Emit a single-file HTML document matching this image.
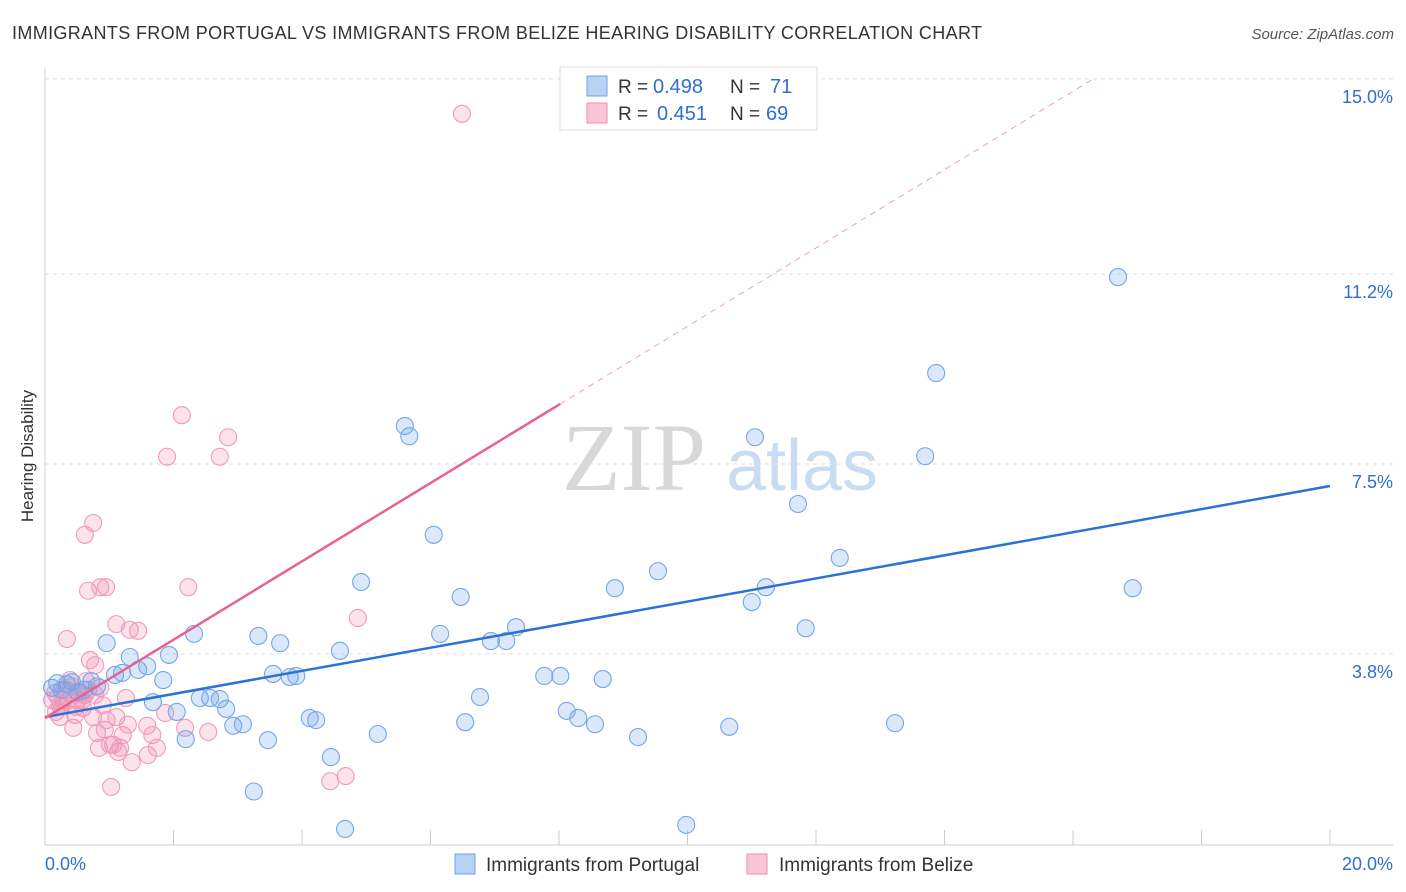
<!DOCTYPE html>
<html><head><meta charset="utf-8"><style>
body{margin:0;background:#fff;font-family:"Liberation Sans",sans-serif;}
svg{display:block}
</style></head><body>
<svg id="chart" width="1406" height="892" xmlns="http://www.w3.org/2000/svg">
<text x="12" y="39" font-size="18" fill="#333" textLength="970" lengthAdjust="spacing">IMMIGRANTS FROM PORTUGAL VS IMMIGRANTS FROM BELIZE HEARING DISABILITY CORRELATION CHART</text>
<text x="1394" y="39" font-size="15" fill="#555" text-anchor="end" font-style="italic">Source: ZipAtlas.com</text>
<text transform="translate(33,456) rotate(-90)" font-size="17" fill="#333" text-anchor="middle">Hearing Disability</text>
<g>
<text x="634" y="490" font-size="96" fill="#d8d8d8" text-anchor="middle" font-family="Liberation Serif,serif">ZIP</text>
<text x="802" y="490" font-size="72" fill="#c9dcf2" text-anchor="middle">atlas</text>
</g>
<g id="grid"></g><g id="axes"></g><g id="pts"></g><g id="trend"></g>
<g>
<rect x="560" y="67" width="257" height="63" fill="#fff" stroke="#ddd"/>
<rect x="587" y="76" width="20" height="20" fill="#b8d2f3" stroke="#6fa3e8"/>
<rect x="587" y="103" width="20" height="20" fill="#f9c6d7" stroke="#f08cb0"/>
<text x="618" y="93" font-size="19" fill="#333">R = <tspan fill="#2f6fd0" x="653" font-size="20">0.498</tspan><tspan x="730">N = </tspan><tspan fill="#2f6fd0" x="770" font-size="20">71</tspan></text>
<text x="618" y="120" font-size="19" fill="#333">R = <tspan fill="#2f6fd0" x="657" font-size="20">0.451</tspan><tspan x="730">N = </tspan><tspan fill="#2f6fd0" x="766" font-size="20">69</tspan></text>
</g>
<g>
<rect x="455" y="854" width="20" height="20" fill="#b8d2f3" stroke="#6fa3e8"/>
<text x="486" y="871" font-size="19" fill="#333">Immigrants from Portugal</text>
<rect x="747" y="854" width="20" height="20" fill="#f9c6d7" stroke="#f08cb0"/>
<text x="779" y="871" font-size="19" fill="#333">Immigrants from Belize</text>
</g>
</svg>
<script>
const yTicks=[15.0,11.2,7.5,3.8];
const yTickLabels=["15.0%","11.2%","7.5%","3.8%"];
const xTickCount=11;
const blueX=[0.11,0.19,0.26,0.34,0.42,0.51,0.61,0.72,0.81,0.96,1.09,1.20,1.32,1.45,1.59,1.68,1.84,1.93,2.05,2.19,2.32,2.41,2.57,2.72,2.82,2.93,3.08,3.25,3.32,3.47,3.55,3.66,3.81,3.91,4.12,4.22,4.45,4.59,4.67,4.92,5.18,5.60,5.67,6.05,6.15,6.47,6.54,6.77,6.94,7.18,7.33,7.77,8.02,8.12,8.30,8.56,8.68,8.87,9.23,9.54,9.98,10.65,11.00,11.05,11.22,11.72,11.84,12.37,13.23,13.70,13.87,16.70,16.93];
const blueY=[3.14,3.23,3.10,3.21,3.25,3.06,3.10,3.27,3.17,4.01,3.39,3.43,3.74,3.49,3.56,2.86,3.29,3.78,2.67,2.14,4.19,2.94,2.94,2.92,2.73,2.40,2.43,1.12,4.15,2.12,3.41,4.01,3.35,3.37,2.55,2.51,1.79,3.86,0.39,5.20,2.24,8.24,8.04,6.12,4.19,4.91,2.47,2.96,4.05,4.05,4.32,3.37,3.37,2.69,2.55,2.43,3.31,5.08,2.18,5.41,0.47,2.38,4.81,8.02,5.10,6.72,4.30,5.67,2.45,7.65,9.27,11.14,5.08];
const pinkX=[0.11,0.16,0.20,0.23,0.28,0.33,0.39,0.44,0.47,0.51,0.54,0.59,0.62,0.67,0.70,0.75,0.78,0.81,0.84,0.86,0.90,0.93,0.96,1.01,1.03,1.06,1.11,1.14,1.17,1.21,1.26,1.29,1.35,1.32,1.45,1.59,1.60,1.67,1.74,1.87,1.90,2.13,2.18,2.23,2.54,2.72,2.85,0.75,0.62,0.67,0.86,0.95,1.11,0.34,4.44,4.68,4.87,6.49,0.17,0.23,0.30,0.36,0.42,0.48,0.26,0.58,0.64,0.78];
const pinkY=[2.90,3.04,2.96,2.80,2.90,3.10,3.29,2.36,2.61,2.90,3.04,2.75,3.00,3.10,3.68,2.57,3.58,2.26,1.97,3.14,2.80,2.32,2.51,2.03,1.21,2.03,2.57,1.89,1.97,2.22,2.94,2.42,1.69,4.27,4.25,2.40,1.83,2.22,1.97,2.65,7.64,8.45,2.36,5.10,2.28,7.64,8.02,6.35,6.12,5.03,5.10,5.10,4.38,4.09,1.32,1.42,4.50,14.32,2.67,2.57,3.10,2.90,3.17,2.77,2.79,2.90,3.27,3.00];
const blueTrend=[2.57,7.07];
const pinkTrend=[2.55,8.67];
const pinkSolidEnd=8.02;

const NS="http://www.w3.org/2000/svg";
const X=v=>45+v*64.25, Y=v=>849-v*51.34;
function mk(tag,attrs,parent){const e=document.createElementNS(NS,tag);for(const k in attrs)e.setAttribute(k,attrs[k]);parent.appendChild(e);return e;}
const grid=document.getElementById('grid'),axes=document.getElementById('axes'),pts=document.getElementById('pts'),tr=document.getElementById('trend');
yTicks.forEach((t,i)=>{
 const l=mk('line',{x1:45,x2:1393,y1:Y(t),y2:Y(t),stroke:'#ddd','stroke-dasharray':'4,4'},grid);
 
 
 const tx=mk('text',{x:1393,y:Y(t)+24,'font-size':18,fill:'#2f6fd0','text-anchor':'end'},grid);
 tx.textContent=yTickLabels[i];
 
 
});
const ax=mk('line',{x1:45,x2:1393,y1:845,y2:845,stroke:'#ccc'},axes);


const ay=mk('line',{x1:45,x2:45,y1:68,y2:845,stroke:'#ccc'},axes);


for(let i=0;i<xTickCount;i++){const x=X(i*2);const t=mk('line',{x1:x,x2:x,y1:830,y2:845,stroke:'#ccc'},axes);
 
 }
const x0=mk('text',{x:45,y:870,'font-size':18,fill:'#2f6fd0'},axes);x0.textContent='0.0%';


const x1=mk('text',{x:1393,y:870,'font-size':18,fill:'#2f6fd0','text-anchor':'end'},axes);x1.textContent='20.0%';


pinkX.forEach((v,i)=>{const c=mk('circle',{cx:X(v),cy:Y(pinkY[i]),r:8.5,fill:'rgba(240,140,176,0.25)',stroke:'#f29abb','stroke-width':1.1},pts);
 
 });
blueX.forEach((v,i)=>{const c=mk('circle',{cx:X(v),cy:Y(blueY[i]),r:8.5,fill:'rgba(111,163,232,0.25)',stroke:'#74a6e8','stroke-width':1.1},pts);
 
 });
const bt=mk('line',{x1:X(0),y1:Y(blueTrend[0]),x2:X(20),y2:Y(blueTrend[1]),stroke:'#2a72d6','stroke-width':2.5},tr);


const slope=(pinkTrend[1]-pinkTrend[0])/pinkSolidEnd;
const pt=mk('line',{x1:X(0),y1:Y(pinkTrend[0]),x2:X(pinkSolidEnd),y2:Y(pinkTrend[1]),stroke:'#e8628f','stroke-width':2.5},tr);


const xEnd=(15-pinkTrend[0])/slope;
const pd=mk('line',{x1:X(pinkSolidEnd),y1:Y(pinkTrend[1]),x2:X(xEnd),y2:Y(15),stroke:'#f0a0ba','stroke-width':1,'stroke-dasharray':'6,5'},tr);


</script>
</body></html>
